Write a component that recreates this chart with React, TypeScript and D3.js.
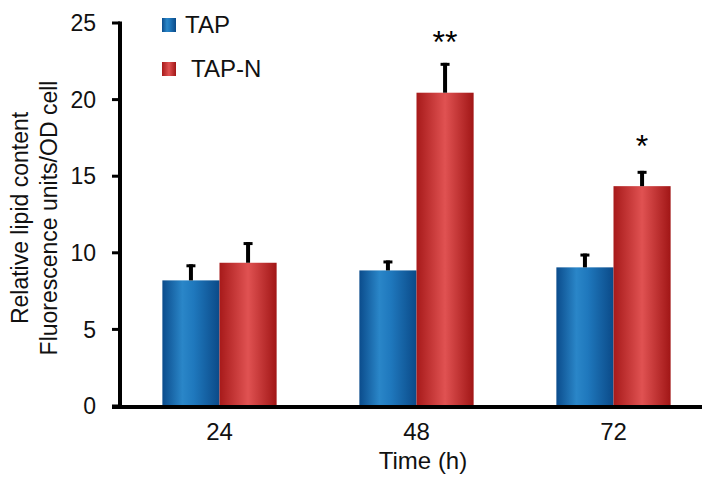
import React from "react";
import * as d3 from "d3";

const categories = ["24", "48", "72"];
const seriesNames = ["TAP", "TAP-N"];
const tapValues = [8.2, 8.85, 9.05];
const tapErrors = [1.05, 0.65, 0.9];
const tapNValues = [9.35, 20.45, 14.35];
const tapNErrors = [1.35, 1.95, 1.0];
const significance = ["", "**", "*"];
const yTicks = [0, 5, 10, 15, 20, 25];

const W = 702;
const H = 477;
const FONT = "'Liberation Sans', Arial, sans-serif";

export default function App() {
  const x0 = d3.scaleBand<string>().domain(categories).range([121, 712]).paddingInner(0.42).paddingOuter(0.21);
  const x1 = d3.scaleBand<string>().domain(seriesNames).range([0, x0.bandwidth()]);
  const y = d3.scaleLinear().domain([0, 25]).range([406, 23]);
  const series = [
    { name: "TAP", values: tapValues, errors: tapErrors, grad: "gBlue" },
    { name: "TAP-N", values: tapNValues, errors: tapNErrors, grad: "gRed" },
  ];
  return (
    <svg width={W} height={H} style={{ position: "absolute", left: 0, top: 0, background: "#fff" }}>
      <defs>
        <linearGradient id="gBlue" x1="0" x2="1" y1="0" y2="0">
          <stop offset="0" stopColor="#0b4c8c" />
          <stop offset="0.35" stopColor="#2a86c8" />
          <stop offset="0.55" stopColor="#1f78bd" />
          <stop offset="1" stopColor="#0b4a88" />
        </linearGradient>
        <linearGradient id="gRed" x1="0" x2="1" y1="0" y2="0">
          <stop offset="0" stopColor="#a71a1a" />
          <stop offset="0.5" stopColor="#e05252" />
          <stop offset="1" stopColor="#a11616" />
        </linearGradient>
      </defs>
      {/* bars */}
      {categories.map((c, i) => (
        <g key={c} transform={`translate(${x0(c)},0)`}>
          {series.map((s) => {
            const bx = x1(s.name)!;
            const bw = x1.bandwidth();
            const top = y(s.values[i]);
            const errTop = y(s.values[i] + s.errors[i]);
            const cx = bx + bw / 2;
            return (
              <g key={s.name}>
                <rect x={bx} y={top} width={bw} height={y(0) - top} fill={`url(#${s.grad})`} />
                <line x1={cx} x2={cx} y1={top} y2={errTop} stroke="#000" strokeWidth={4} />
                <line x1={cx - 4.5} x2={cx + 4.5} y1={errTop + 1.5} y2={errTop + 1.5} stroke="#000" strokeWidth={3} />
              </g>
            );
          })}
          {significance[i] && (
            <text
              x={x1("TAP-N")! + x1.bandwidth() / 2}
              y={y(tapNValues[i] + tapNErrors[i]) - (significance[i].length > 1 ? 10 : 14)}
              textAnchor="middle"
              fontFamily={FONT}
              fontSize={32}
              fill="#000"
            >
              {significance[i]}
            </text>
          )}
        </g>
      ))}
      {/* y axis */}
      <line x1={120} x2={120} y1={y(25) - 1.5} y2={y(0)} stroke="#000" strokeWidth={4} />
      {yTicks.map((t) => (
        <g key={t}>
          <line x1={112} x2={120} y1={y(t)} y2={y(t)} stroke="#000" strokeWidth={3} />
          <text x={96} y={y(t)} dy="0.36em" textAnchor="end" fontFamily={FONT} fontSize={23} fill="#111">
            {t}
          </text>
        </g>
      ))}
      {/* x axis */}
      <line x1={112} x2={702} y1={407} y2={407} stroke="#000" strokeWidth={4} />
      {categories.map((c) => (
        <text key={c} x={x0(c)! + x0.bandwidth() / 2} y={440} textAnchor="middle" fontFamily={FONT} fontSize={24} fill="#111">
          {c}
        </text>
      ))}
      <text x={423} y={469} textAnchor="middle" fontFamily={FONT} fontSize={24} fill="#111">
        Time (h)
      </text>
      {/* y label */}
      <g transform="translate(0,218) rotate(-90)">
        <text x={0} y={28} textAnchor="middle" fontFamily={FONT} fontSize={23} fill="#111">
          Relative lipid content
        </text>
        <text x={0} y={57} textAnchor="middle" fontFamily={FONT} fontSize={23} fill="#111">
          Fluorescence units/OD cell
        </text>
      </g>
      {/* legend */}
      <rect x={162} y={18} width={14} height={14} fill="url(#gBlue)" />
      <text x={185} y={33} fontFamily={FONT} fontSize={24} fill="#111">TAP</text>
      <rect x={162} y={62} width={14} height={14} fill="url(#gRed)" />
      <text x={191} y={77} fontFamily={FONT} fontSize={24} fill="#111">TAP-N</text>
    </svg>
  );
}
